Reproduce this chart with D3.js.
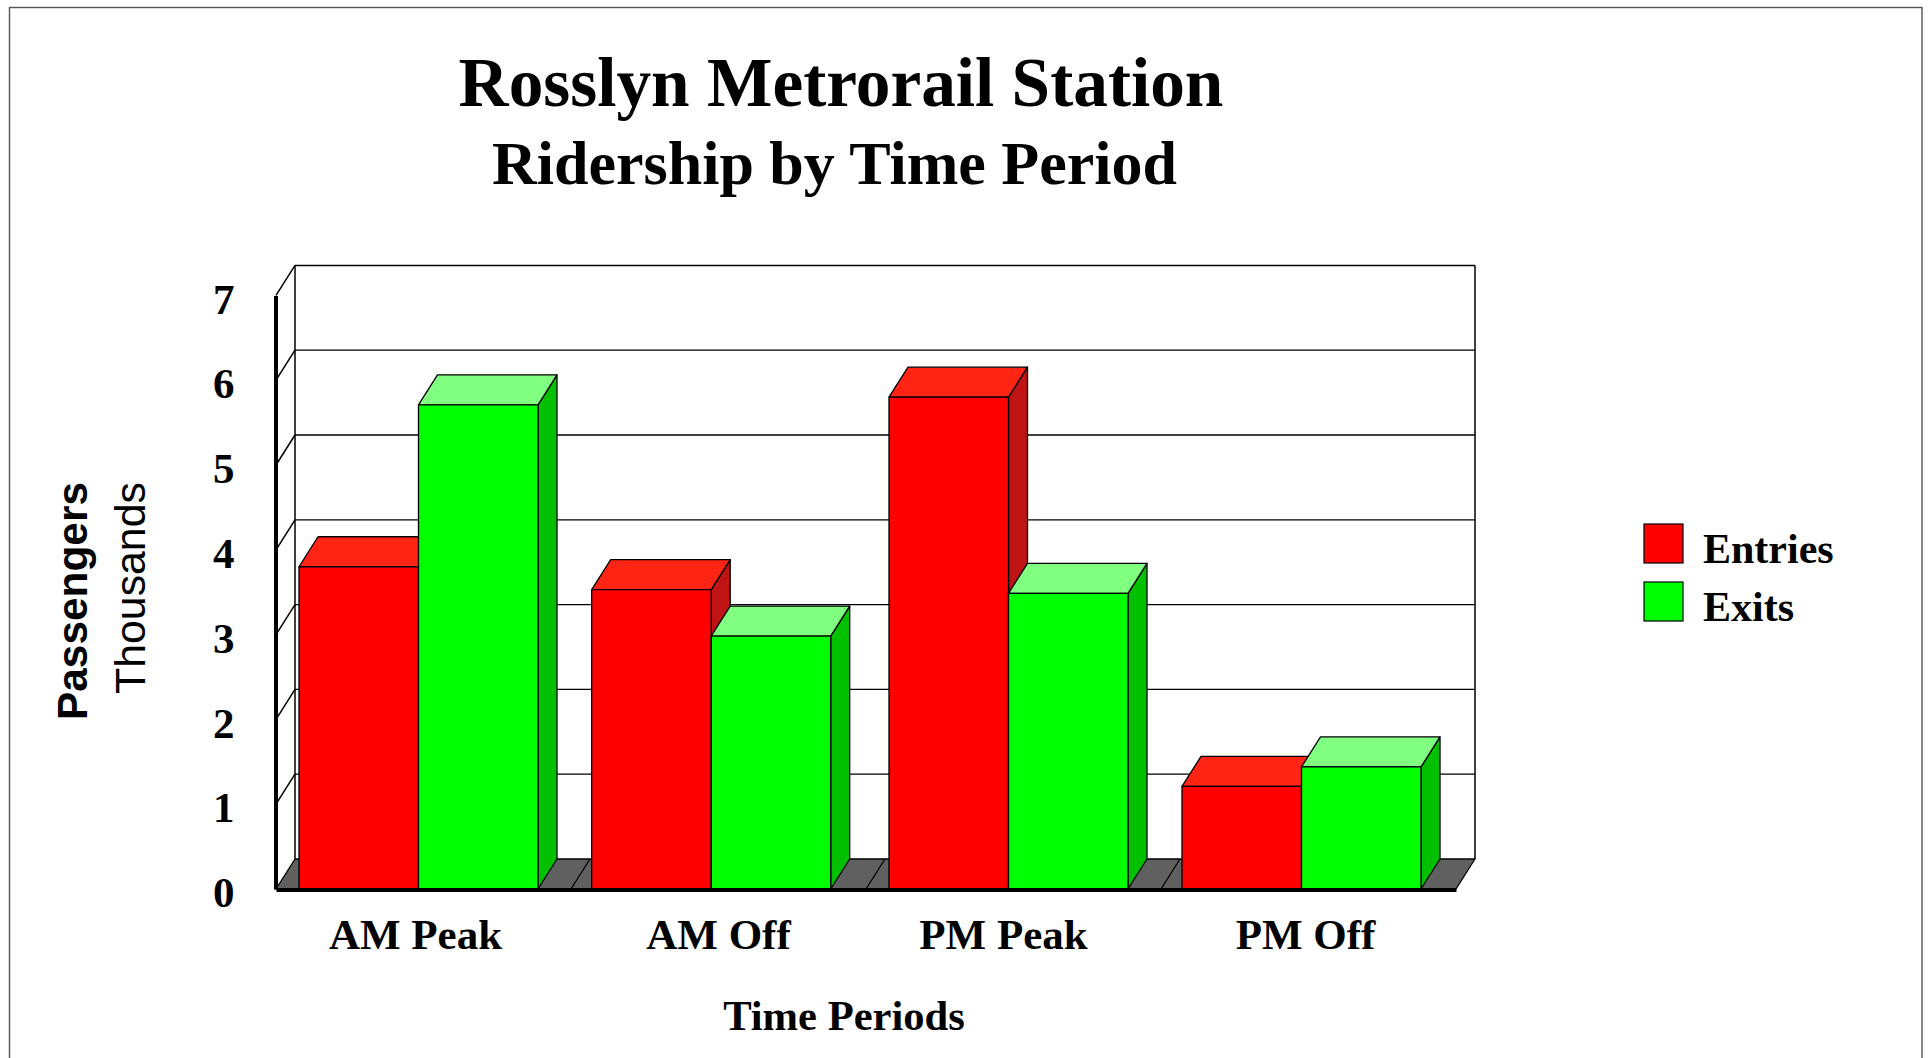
<!DOCTYPE html>
<html>
<head>
<meta charset="utf-8">
<style>
html,body{margin:0;padding:0;background:#fff;overflow:hidden;}
svg{display:block;}
text{fill:#000;}
.serif{font-family:"Liberation Serif",serif;font-weight:bold;}
</style>
</head>
<body>
<svg id="graph" width="1931" height="1058"></svg>
<script src="https://d3js.org/d3.v7.min.js"></script>
<script>
var categories = ["AM Peak","AM Off","PM Peak","PM Off"];
var seriesNames = ["Entries","Exits"];
var entries = [3.80,3.53,5.8,1.21];
var exits = [5.71,2.983,3.487,1.44];
var yTicks = [0,1,2,3,4,5,6,7];

var colors = {
	Entries:{front:'#ff0000',top:'#ff2413',side:'#c01313'},
	Exits:{front:'#00ff00',top:'#80ff80',side:'#00c000'}
};
var dx = 19, dy = -30;	// depth of the 3d box
var svg = d3.select('#graph');
var x0 = d3.scaleBand().domain(categories).range([276,1456]);
var x1 = d3.scaleBand().domain(seriesNames).range([0,239]);
var y = d3.scaleLinear().domain([0,7]).range([889,295.4]);
// the original's groups and labels are not evenly placed
var barOffset = [23,20.7,23,21];
var labelNudge = [-8,0,-10,-3];

function poly(points,fill,stroke,sw){
	return svg.append('polygon')
		.attr('points',points.map(function(p){return p.join(',');}).join(' '))
		.attr('fill',fill)
		.attr('stroke',stroke||'#000')
		.attr('stroke-width',sw||1.3)
		.attr('stroke-linejoin','round');
}
function line(x1_,y1_,x2_,y2_,sw,col){
	return svg.append('line')
		.attr('x1',x1_).attr('y1',y1_).attr('x2',x2_).attr('y2',y2_)
		.attr('stroke',col||'#000').attr('stroke-width',sw||1.3);
}

// outer frame
svg.append('rect').attr('x',9.5).attr('y',7.5).attr('width',1912.5).attr('height',1100)
	.attr('fill','#fff').attr('stroke','#555').attr('stroke-width',1.4);

// floor
var x0L = x0.range()[0], x0R = x0.range()[1];
poly([[x0L,y(0)],[x0L+dx,y(0)+dy],[x0R+dx,y(0)+dy],[x0R,y(0)]],'#606060');
categories.slice(1).forEach(function(c){
	line(x0(c),y(0),x0(c)+dx,y(0)+dy);
});

// back wall and grid
line(x0L+dx,y(7)+dy,x0R+dx,y(7)+dy,1.5);
line(x0L+dx,y(7)+dy,x0L+dx,y(0)+dy,1.5);
line(x0R+dx,y(7)+dy,x0R+dx,y(0)+dy,1.5);
yTicks.slice(1).forEach(function(t){
	line(x0L,y(t),x0L+dx,y(t)+dy,1.5);
	if(t<7)line(x0L+dx,y(t)+dy,x0R+dx,y(t)+dy,1.3);
});

// bars, back to front inside each group
categories.forEach(function(c,i){
	seriesNames.forEach(function(s){
		var v = s=='Entries'?entries[i]:exits[i];
		var col = colors[s];
		var l = x0(c)+barOffset[i]+x1(s), r = l+x1.bandwidth();
		var t = y(v), b = y(0);
		poly([[r,t],[r+dx,t+dy],[r+dx,b+dy],[r,b]],col.side);
		poly([[l,t],[l+dx,t+dy],[r+dx,t+dy],[r,t]],col.top);
		poly([[l,t],[r,t],[r,b],[l,b]],col.front);
	});
});

// axes
var yAxis = svg.append('g').attr('transform','translate(275.5,0)').attr('class','serif')
	.call(d3.axisLeft(y).tickValues(yTicks).tickSize(0).tickPadding(41).tickFormat(d3.format('d')));
yAxis.select('.domain').attr('stroke','#000').attr('stroke-width',4);
yAxis.selectAll('text').style('font-size','43px').style('font-family','"Liberation Serif",serif').style('font-weight','bold').attr('dy','0.41em');
var xAxis = svg.append('g').attr('transform','translate(0,889.5)').attr('class','serif')
	.call(d3.axisBottom(x0).tickSize(0).tickPadding(29));
xAxis.select('.domain').attr('stroke','#000').attr('stroke-width',4);
xAxis.selectAll('text').style('font-size','43px').style('font-family','"Liberation Serif",serif').style('font-weight','bold')
	.attr('dx',function(d,i){return labelNudge[i];});

// titles
svg.append('text').attr('class','serif').attr('x',841).attr('y',106).attr('text-anchor','middle')
	.style('font-size','69.3px').text('Rosslyn Metrorail Station');
svg.append('text').attr('class','serif').attr('x',834.5).attr('y',184).attr('text-anchor','middle')
	.style('font-size','62px').text('Ridership by Time Period');
svg.append('text').attr('class','serif').attr('x',844).attr('y',1030).attr('text-anchor','middle')
	.style('font-size','42.6px').text('Time Periods');
svg.append('text').attr('transform','translate(86.5,601) rotate(-90)').attr('text-anchor','middle')
	.style('font-family','"Liberation Sans",sans-serif').style('font-weight','bold').style('font-size','42.4px').text('Passengers');
svg.append('text').attr('transform','translate(145,588) rotate(-90)').attr('text-anchor','middle')
	.style('font-family','"Liberation Sans",sans-serif').style('font-size','42.8px').text('Thousands');

// legend
var lg = svg.selectAll('.lg').data(seriesNames).enter().append('g').attr('class','lg')
	.attr('transform',function(d,i){return 'translate(1644,'+(524+i*58)+')';});
lg.append('rect').attr('width',39).attr('height',39)
	.attr('fill',function(d){return colors[d].front;}).attr('stroke','#000').attr('stroke-width',1.2);
lg.append('text').attr('class','serif').attr('x',59).attr('y',38.5).style('font-size','42px').text(function(d){return d;});
</script>
</body>
</html>
